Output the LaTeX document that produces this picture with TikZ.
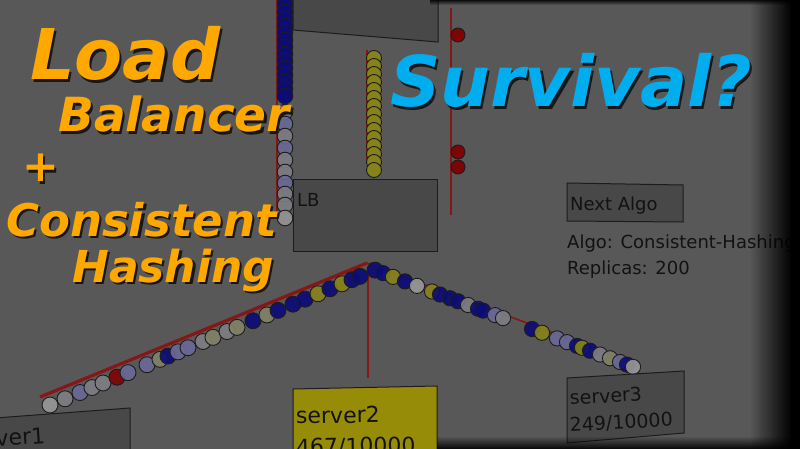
\documentclass[tikz,border=0pt]{standalone}
\usepackage{fontspec}
\setmainfont{DejaVu Sans}
\usetikzlibrary{fadings}
\definecolor{bgcol}{RGB}{88,88,88}
\definecolor{boxcol}{RGB}{72,72,72}
\definecolor{edgecol}{RGB}{28,28,28}
\definecolor{olivebox}{RGB}{150,140,8}
\definecolor{cB}{RGB}{12,12,118}
\definecolor{cO}{RGB}{135,130,28}
\definecolor{cL}{RGB}{105,105,150}
\definecolor{cP}{RGB}{125,125,132}
\definecolor{cW}{RGB}{150,150,150}
\definecolor{cQ}{RGB}{130,130,105}
\definecolor{cR}{RGB}{125,5,5}
\definecolor{redline}{RGB}{135,22,22}
\definecolor{txtdark}{RGB}{18,18,18}
\definecolor{orangetxt}{RGB}{255,168,0}
\definecolor{cyantxt}{RGB}{0,174,240}
\definecolor{shadowcol}{RGB}{22,22,22}
\tikzfading[name=fadeR, left color=transparent!100, right color=transparent!0]
\tikzfading[name=fadeD, top color=transparent!100, bottom color=transparent!0]
\tikzfading[name=fadeU, top color=transparent!0, bottom color=transparent!100]
\tikzset{
  ballline/.style={draw=edgecol, line width=0.9pt},
  panel/.style={fill=boxcol, draw=edgecol, line width=1pt},
  rline/.style={draw=redline, line width=1.6pt},
  smalltxt/.style={inner sep=0pt, text=txtdark, font=\fontsize{18}{22}\selectfont},
  srvtxt/.style={inner sep=0pt, text=txtdark, font=\fontsize{20}{24}\selectfont, align=left},
  titleO/.style={inner sep=0pt, anchor=base west, text=orangetxt},
  titleC/.style={inner sep=0pt, anchor=base west, text=cyantxt},
  shadowT/.style={inner sep=0pt, anchor=base west, text=shadowcol}
}
\newcommand\mytitle[5]{% name, x, y, text, fontsize
  \node[shadowT, font=\bfseries\itshape\fontsize{#5}{#5}\selectfont] (#1s) at (#2+2.2,#3+2.2) {#4};
  \node[#1st, font=\bfseries\itshape\fontsize{#5}{#5}\selectfont] (#1) at (#2,#3) {#4};
}
\begin{document}
\begin{tikzpicture}[x=1pt,y=-1pt]
\useasboundingbox (0,0) rectangle (800,449);
\clip (0,0) rectangle (800,449);
\fill[bgcol] (0,0) rectangle (800,449);

% red guide lines
\draw[rline] (277,0) -- (277,214);
\draw[rline] (367,50) -- (367,164);
\draw[rline] (451,8) -- (451,215);
\draw[redline, line width=3.2pt] (40,397) coordinate (ringL) -- (367,263) coordinate (apex);
\draw[rline] (apex) -- (636,364) coordinate (ringR);
\draw[rline] (368,268) -- (368,378) coordinate (apexdown);

% top box
\path[panel] (293,-2) -- (438,-2) -- (438,42) -- (293,30) -- cycle;
% LB box
\path[panel] (293,180) -- (437,180) -- (437,251) -- (293,251) -- cycle;
\node[smalltxt, anchor=base west] (lb) at (297,207) {LB};

% left vertical column of balls
\foreach \yy in {-2,5,...,100} {\draw[ballline, fill=cB] (285,\yy) circle[radius=7.8];}
\foreach \yy/\cc in {112/cL,124/cL,136/cP,148/cL,160/cP,172/cP,183/cL,194/cP,205/cP,218/cW}
  {\draw[ballline, fill=\cc, fill opacity=0.9] (285,\yy) circle[radius=7.8];}

% yellow column
\foreach \yy in {58,66,...,170} {\draw[ballline, fill=cO] (374,\yy) circle[radius=7.5];}

% red balls
\foreach \yy in {35,152,167} {\draw[ballline, fill=cR] (458,\yy) circle[radius=7];}

% left ring chain
\foreach \xx/\cc in {50/cW,65/cP,80/cL,92/cP,103/cP,117/cR,128/cL,147/cL,160/cQ,168/cB,178/cL,188/cL,203/cP,213/cQ,227/cP,237/cQ,253/cB,267/cQ,278/cB,293/cB,305/cB,318/cO,330/cB,342/cO,352/cB,360/cB,375/cB}
  {\pgfmathsetmacro\yy{405-0.415*(\xx-50)}
   \draw[ballline, fill=\cc, fill opacity=0.92] (\xx,\yy) circle[radius=8];}

% right ring chain
\foreach \xx/\cc in {383/cB,393/cO,405/cB,417/cW,432/cO,440/cB,450/cB,458/cB,468/cP,478/cB,483/cB,495/cL,503/cP,532/cB,542/cO,557/cL,567/cL,577/cB,582/cO,590/cB,600/cP,610/cQ,620/cL,627/cB,633/cW}
  {\pgfmathsetmacro\yy{272+0.375*(\xx-380)}
   \draw[ballline, fill=\cc, fill opacity=0.92] (\xx,\yy) circle[radius=7.6];}

% Next Algo box and info
\path[panel] (567,183) -- (683,185) -- (683,222) -- (567,221) -- cycle;
\node[smalltxt, anchor=base west] (next) at (570,211) {Next Algo};
\node[smalltxt, anchor=base west] (algo) at (567,248) {Algo: Consistent-Hashing};
\node[smalltxt, anchor=base west] (repl) at (567,274) {Replicas: 200};

% server boxes
\path[panel] (-5,418) -- (130,408) -- (130,455) -- (-5,455) -- cycle;
\node[srvtxt, anchor=base west, rotate=4, font=\fontsize{22}{26}\selectfont] (s1) at (-38,449) {server1};
\path[fill=olivebox, draw=edgecol, line width=1pt] (293,389) -- (437,386) -- (437,460) -- (293,460) -- cycle;
\node[srvtxt, anchor=base west, rotate=1, font=\fontsize{22}{26}\selectfont] (s2a) at (296,424) {server2};
\node[srvtxt, anchor=base west, rotate=1, font=\fontsize{22}{26}\selectfont] (s2b) at (296,455) {467/10000};
\path[panel] (567,378) -- (684,371) -- (684,433) -- (567,443) -- cycle;
\node[srvtxt, anchor=base west, rotate=3.4, font=\fontsize{19}{22}\selectfont] (s3a) at (570,405) {server3};
\node[srvtxt, anchor=base west, rotate=3.4, font=\fontsize{19}{22}\selectfont] (s3b) at (570,432) {249/10000};

% titles
\tikzset{loadst/.style={titleO}, balst/.style={titleO}, plusst/.style={titleO}, consst/.style={titleO}, hashst/.style={titleO}, survst/.style={titleC}}
\mytitle{load}{30}{80}{Load}{70}
\mytitle{bal}{58}{132}{Balancer}{47}
\mytitle{plus}{22}{182}{+}{44}
\mytitle{cons}{6}{236}{Consistent}{45}
\mytitle{hash}{72}{282}{Hashing}{44}
\mytitle{surv}{390}{107}{Survival?}{70}

% vignette
\fill[black, path fading=fadeR] (750,-1) rectangle (792,450);
\fill[black] (791,-1) rectangle (801,450);
\fill[black, path fading=fadeU] (430,-1) rectangle (800,5);
\fill[black, path fading=fadeD] (437,436) rectangle (800,450);
\end{tikzpicture}
\end{document}
